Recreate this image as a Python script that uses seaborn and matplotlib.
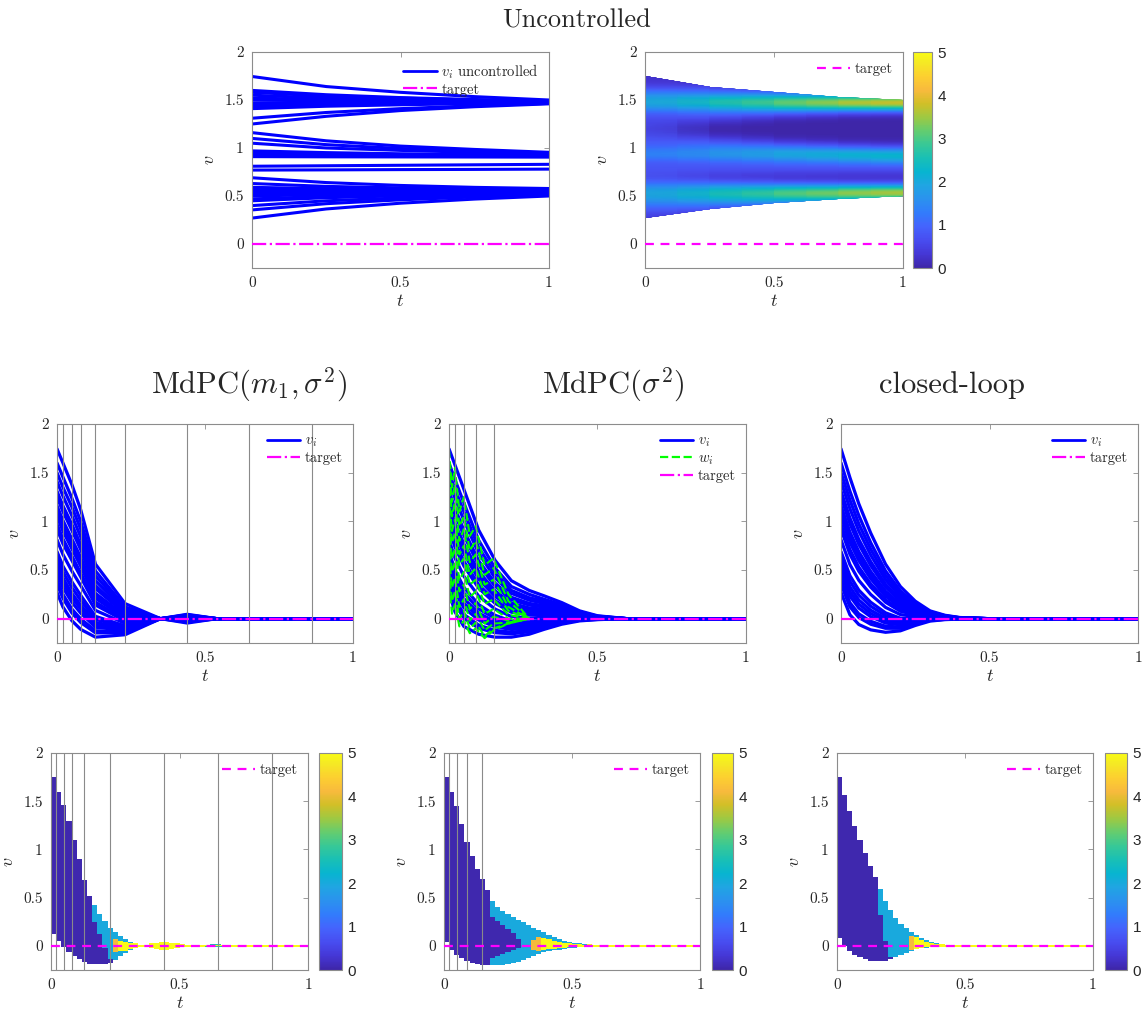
import numpy as np
import pandas as pd
import matplotlib
matplotlib.use('Agg')
import matplotlib.pyplot as plt
from matplotlib.colors import LinearSegmentedColormap
from matplotlib.lines import Line2D
from matplotlib.patches import Polygon
import seaborn as sns

# ==============================
# DATA
# ==============================
target_v = 0.0
x_ticks = [0, 0.5, 1]
x_tick_labels = ['0', '0.5', '1']
y_ticks = [0, 0.5, 1, 1.5, 2]
y_tick_labels = ['0', '0.5', '1', '1.5', '2']
cbar_ticks = [0, 1, 2, 3, 4, 5]

# uncontrolled trajectories v_i(t)
t_unc = [0, 0.25, 0.5, 0.75, 1.0]
v_unc = [
    [1.745, 1.64, 1.58, 1.535, 1.50],
    [1.60, 1.555, 1.525, 1.505, 1.49],
    [1.58, 1.54, 1.52, 1.50, 1.488],
    [1.55, 1.52, 1.505, 1.492, 1.483],
    [1.52, 1.505, 1.495, 1.487, 1.482],
    [1.50, 1.49, 1.486, 1.482, 1.479],
    [1.47, 1.473, 1.475, 1.477, 1.478],
    [1.45, 1.46, 1.467, 1.472, 1.475],
    [1.43, 1.45, 1.46, 1.468, 1.474],
    [1.41, 1.435, 1.45, 1.463, 1.472],
    [1.31, 1.37, 1.41, 1.44, 1.465],
    [1.25, 1.33, 1.39, 1.43, 1.46],
    [1.16, 1.075, 1.02, 0.985, 0.955],
    [1.10, 1.035, 0.995, 0.967, 0.945],
    [1.05, 1.00, 0.975, 0.955, 0.938],
    [0.97, 0.952, 0.94, 0.932, 0.926],
    [0.95, 0.938, 0.93, 0.925, 0.921],
    [0.93, 0.924, 0.92, 0.918, 0.916],
    [0.91, 0.908, 0.907, 0.906, 0.905],
    [0.81, 0.815, 0.82, 0.825, 0.83],
    [0.77, 0.772, 0.775, 0.777, 0.78],
    [0.69, 0.64, 0.61, 0.59, 0.578],
    [0.63, 0.60, 0.585, 0.573, 0.567],
    [0.59, 0.577, 0.57, 0.564, 0.561],
    [0.57, 0.564, 0.56, 0.557, 0.556],
    [0.55, 0.55, 0.55, 0.55, 0.55],
    [0.52, 0.53, 0.536, 0.541, 0.544],
    [0.50, 0.515, 0.525, 0.533, 0.539],
    [0.47, 0.495, 0.512, 0.524, 0.532],
    [0.45, 0.482, 0.502, 0.517, 0.527],
    [0.40, 0.45, 0.48, 0.503, 0.52],
    [0.355, 0.42, 0.46, 0.49, 0.513],
    [0.27, 0.365, 0.425, 0.468, 0.50],
]

# MdPC(m1, sigma^2)
ctrl_A = [0.02, 0.05, 0.08, 0.13, 0.23, 0.44, 0.65, 0.86]
t_A = [0, 0.02, 0.05, 0.08, 0.13, 0.23, 0.35, 0.44, 0.54, 1.0]
v_A = [
    [1.745, 1.60, 1.38, 1.12, 0.56, 0.155, 0, -0.045, 0, 0],
    [1.60, 1.455, 1.24, 1.00, 0.49, 0.12, 0, -0.036, 0, 0],
    [1.50, 1.35, 1.15, 0.92, 0.44, 0.10, 0, -0.03, 0, 0],
    [1.41, 1.26, 1.06, 0.84, 0.39, 0.08, 0, -0.025, 0, 0],
    [1.31, 1.16, 0.97, 0.76, 0.34, 0.06, 0, -0.018, 0, 0],
    [1.25, 1.10, 0.91, 0.71, 0.31, 0.05, 0, -0.015, 0, 0],
    [1.16, 1.01, 0.82, 0.63, 0.26, 0.03, 0, -0.009, 0, 0],
    [1.10, 0.95, 0.77, 0.58, 0.23, 0.015, 0, -0.006, 0, 0],
    [1.05, 0.90, 0.72, 0.54, 0.21, 0.004, 0, -0.003, 0, 0],
    [0.97, 0.82, 0.645, 0.47, 0.17, -0.013, 0, 0.002, 0, 0],
    [0.92, 0.77, 0.60, 0.43, 0.14, -0.024, 0, 0.005, 0, 0],
    [0.81, 0.66, 0.49, 0.34, 0.085, -0.048, 0, 0.012, 0, 0],
    [0.69, 0.54, 0.38, 0.24, 0.024, -0.074, 0, 0.019, 0, 0],
    [0.63, 0.48, 0.32, 0.19, -0.007, -0.087, 0, 0.023, 0, 0],
    [0.57, 0.42, 0.26, 0.14, -0.038, -0.10, 0, 0.027, 0, 0],
    [0.52, 0.37, 0.22, 0.10, -0.063, -0.111, 0, 0.03, 0, 0],
    [0.47, 0.32, 0.17, 0.057, -0.088, -0.121, 0, 0.033, 0, 0],
    [0.40, 0.25, 0.10, -0.002, -0.124, -0.137, 0, 0.037, 0, 0],
    [0.355, 0.21, 0.06, -0.039, -0.146, -0.146, 0, 0.04, 0, 0],
    [0.27, 0.12, -0.02, -0.11, -0.19, -0.165, 0, 0.045, 0, 0],
]

# MdPC(sigma^2)
ctrl_B = [0.02, 0.05, 0.09, 0.15]
t_B = [0, 0.02, 0.05, 0.1, 0.155, 0.21, 0.27, 0.32, 0.38, 0.44, 0.5, 0.6, 1.0]
v_B = [
    [1.745, 1.58, 1.33, 0.91, 0.60, 0.39, 0.29, 0.235, 0.165, 0.08, 0.03, 0, 0],
    [1.60, 1.43, 1.19, 0.805, 0.52, 0.33, 0.25, 0.20, 0.143, 0.07, 0.026, 0, 0],
    [1.50, 1.33, 1.10, 0.73, 0.47, 0.29, 0.215, 0.18, 0.128, 0.063, 0.023, 0, 0],
    [1.41, 1.24, 1.01, 0.67, 0.42, 0.26, 0.19, 0.157, 0.115, 0.057, 0.021, 0, 0],
    [1.31, 1.135, 0.91, 0.594, 0.367, 0.22, 0.157, 0.133, 0.10, 0.05, 0.018, 0, 0],
    [1.25, 1.07, 0.856, 0.55, 0.335, 0.195, 0.14, 0.12, 0.09, 0.045, 0.017, 0, 0],
    [1.16, 0.98, 0.77, 0.485, 0.286, 0.16, 0.11, 0.098, 0.077, 0.039, 0.014, 0, 0],
    [1.10, 0.92, 0.714, 0.442, 0.255, 0.137, 0.093, 0.084, 0.068, 0.035, 0.013, 0, 0],
    [1.05, 0.87, 0.666, 0.406, 0.228, 0.117, 0.078, 0.073, 0.06, 0.031, 0.011, 0, 0],
    [0.97, 0.787, 0.59, 0.348, 0.185, 0.086, 0.054, 0.054, 0.048, 0.026, 0.009, 0, 0],
    [0.92, 0.736, 0.542, 0.312, 0.158, 0.066, 0.038, 0.042, 0.041, 0.022, 0.008, 0, 0],
    [0.81, 0.623, 0.436, 0.232, 0.099, 0.022, 0.005, 0.016, 0.024, 0.015, 0.005, 0, 0],
    [0.69, 0.50, 0.322, 0.145, 0.035, -0.025, -0.032, -0.012, 0.006, 0.006, 0.001, 0, 0],
    [0.63, 0.438, 0.264, 0.10, 0.003, -0.048, -0.05, -0.026, -0.003, 0.002, 0, 0, 0],
    [0.57, 0.377, 0.206, 0.057, -0.03, -0.072, -0.069, -0.04, -0.012, -0.002, -0.002, 0, 0],
    [0.52, 0.325, 0.158, 0.021, -0.056, -0.092, -0.084, -0.052, -0.019, -0.006, -0.003, 0, 0],
    [0.47, 0.275, 0.112, -0.014, -0.083, -0.111, -0.099, -0.063, -0.027, -0.009, -0.005, 0, 0],
    [0.40, 0.203, 0.044, -0.066, -0.12, -0.139, -0.12, -0.08, -0.037, -0.014, -0.006, 0, 0],
    [0.355, 0.158, 0.002, -0.098, -0.144, -0.156, -0.134, -0.09, -0.044, -0.017, -0.008, 0, 0],
    [0.27, 0.07, -0.08, -0.16, -0.19, -0.19, -0.16, -0.11, -0.057, -0.023, -0.01, 0, 0],
]
# controls w_i(t) (green dashed)
t_W = [0, 0.01, 0.02, 0.035, 0.05, 0.07, 0.09, 0.12, 0.15, 0.2, 0.27]
w_B = [
    [1.73, 1.35, 1.55, 1.10, 1.25, 0.85, 0.95, 0.55, 0.62, 0.25, 0.0],
    [1.58, 1.20, 1.38, 0.95, 1.05, 0.70, 0.80, 0.45, 0.52, 0.18, 0.0],
    [1.45, 1.05, 1.20, 0.80, 0.92, 0.58, 0.66, 0.35, 0.40, 0.12, 0.0],
    [1.25, 0.90, 1.02, 0.66, 0.75, 0.45, 0.52, 0.25, 0.30, 0.08, 0.0],
    [1.10, 0.78, 0.88, 0.55, 0.62, 0.35, 0.40, 0.15, 0.20, 0.04, 0.0],
    [0.95, 0.62, 0.72, 0.40, 0.48, 0.22, 0.28, 0.05, 0.10, 0.0, 0.0],
    [0.80, 0.48, 0.58, 0.28, 0.35, 0.10, 0.16, -0.05, 0.02, -0.02, 0.0],
    [0.65, 0.32, 0.42, 0.12, 0.20, -0.02, 0.05, -0.12, -0.05, -0.04, 0.0],
    [0.50, 0.18, 0.28, 0.0, 0.08, -0.10, -0.04, -0.18, -0.10, -0.05, 0.0],
    [0.35, 0.05, 0.15, -0.08, -0.02, -0.15, -0.10, -0.20, -0.12, -0.05, 0.0],
]

# closed-loop
t_C = [0, 0.03, 0.06, 0.1, 0.15, 0.2, 0.25, 0.3, 0.35, 0.4, 0.5, 1.0]
v_C = [
    [1.745, 1.45, 1.18, 0.88, 0.56, 0.33, 0.18, 0.08, 0.035, 0.012, 0, 0],
    [1.60, 1.31, 1.06, 0.78, 0.49, 0.285, 0.156, 0.07, 0.031, 0.01, 0, 0],
    [1.50, 1.22, 0.974, 0.715, 0.444, 0.254, 0.139, 0.063, 0.028, 0.009, 0, 0],
    [1.41, 1.13, 0.90, 0.654, 0.40, 0.227, 0.123, 0.056, 0.025, 0.008, 0, 0],
    [1.31, 1.034, 0.814, 0.586, 0.354, 0.196, 0.106, 0.049, 0.022, 0.007, 0, 0],
    [1.25, 0.976, 0.763, 0.546, 0.325, 0.177, 0.096, 0.045, 0.02, 0.007, 0, 0],
    [1.16, 0.89, 0.688, 0.485, 0.282, 0.149, 0.081, 0.038, 0.017, 0.006, 0, 0],
    [1.10, 0.834, 0.638, 0.445, 0.254, 0.131, 0.071, 0.034, 0.015, 0.005, 0, 0],
    [1.05, 0.786, 0.596, 0.411, 0.23, 0.116, 0.062, 0.031, 0.014, 0.004, 0, 0],
    [0.97, 0.71, 0.529, 0.358, 0.193, 0.091, 0.049, 0.025, 0.011, 0.004, 0, 0],
    [0.92, 0.662, 0.487, 0.324, 0.169, 0.076, 0.04, 0.021, 0.01, 0.003, 0, 0],
    [0.81, 0.556, 0.394, 0.249, 0.116, 0.042, 0.022, 0.013, 0.006, 0.002, 0, 0],
    [0.69, 0.442, 0.293, 0.169, 0.06, 0.005, 0.001, 0.005, 0.003, 0, 0, 0],
    [0.63, 0.384, 0.243, 0.128, 0.031, -0.014, -0.009, 0.001, 0.001, 0, 0, 0],
    [0.57, 0.326, 0.192, 0.087, 0.002, -0.033, -0.019, -0.004, -0.001, 0, 0, 0],
    [0.52, 0.278, 0.15, 0.053, -0.022, -0.048, -0.028, -0.007, -0.002, -0.001, 0, 0],
    [0.47, 0.232, 0.109, 0.02, -0.045, -0.063, -0.036, -0.011, -0.004, -0.002, 0, 0],
    [0.40, 0.164, 0.049, -0.027, -0.078, -0.085, -0.048, -0.016, -0.006, -0.003, 0, 0],
    [0.355, 0.122, 0.012, -0.057, -0.099, -0.099, -0.055, -0.019, -0.007, -0.003, 0, 0],
    [0.27, 0.04, -0.06, -0.115, -0.14, -0.125, -0.07, -0.025, -0.01, -0.004, 0, 0],
]

# density maps: per time column (width 0.02) envelope + coloured zones
# zone codes: D dark, B light blue, C cyan, O orange, Y yellow, - none
top_A = [1.75, 1.60, 1.46, 1.30, 1.10, 0.90, 0.68, 0.52, 0.42, 0.33, 0.26, 0.19, 0.14, 0.10, 0.07,
         0.045, 0.025, 0.012, 0.012, 0.025, 0.035, 0.042, 0.042, 0.035, 0.025, 0.015, 0.01, 0.008,
         0.008, 0.008, 0.012, 0.014, 0.014, 0.012, 0.008]
bot_A = [0.12, 0.05, -0.01, -0.06, -0.11, -0.14, -0.17, -0.19, -0.19, -0.19, -0.19, -0.18, -0.15, -0.11,
         -0.075, -0.045, -0.025, -0.012, -0.012, -0.025, -0.035, -0.042, -0.042, -0.035, -0.025,
         -0.015, -0.01, -0.008, -0.008, -0.008, -0.012, -0.014, -0.014, -0.012, -0.008]
zone_out_A = 'DDDDDDDDDDDDBBBBYYYYYYYYYYYYYYCCCCY'
zone_in_A = '--------BBBBOYYY--------------YYYY-'
in_lo_A = [np.nan] * 8 + [0.25, 0.12, -0.02, -0.14, -0.06, -0.05, -0.05, -0.03] + [np.nan] * 14 + [-0.006] * 4 + [np.nan]
in_hi_A = [np.nan] * 8 + [0.42, 0.33, 0.26, 0.19, 0.07, 0.05, 0.045, 0.03] + [np.nan] * 14 + [0.006] * 4 + [np.nan]

top_B = [1.75, 1.60, 1.45, 1.26, 1.08, 0.93, 0.80, 0.69, 0.58, 0.47, 0.40, 0.36, 0.33, 0.30, 0.27,
         0.25, 0.22, 0.19, 0.16, 0.14, 0.11, 0.09, 0.07, 0.055, 0.045, 0.035, 0.027, 0.02, 0.014,
         0.01, 0.008, 0.008, 0.008, 0.008, 0.008]
bot_B = [0.04, -0.04, -0.09, -0.13, -0.16, -0.18, -0.19, -0.20, -0.20, -0.20, -0.20, -0.20, -0.19, -0.18,
         -0.165, -0.145, -0.125, -0.105, -0.085, -0.068, -0.055, -0.045, -0.037, -0.03, -0.025, -0.02,
         -0.016, -0.012, -0.009, -0.008, -0.008, -0.008, -0.008, -0.008, -0.008]
zone_out_B = 'DDDDDDDDDBBBBBBBBBBBBBBBBBBBYYYYYYY'
zone_in_B = '---------DDDDDD--OOYYYYYYYYY-------'
in_lo_B = [np.nan] * 9 + [-0.13, -0.10, -0.08, -0.06, -0.04, -0.02, np.nan, np.nan, -0.04, -0.05,
                          -0.04, -0.035, -0.03, -0.025, -0.02, -0.015, -0.012, -0.01, -0.007] + [np.nan] * 7
in_hi_B = [np.nan] * 9 + [0.30, 0.26, 0.22, 0.17, 0.13, 0.07, np.nan, np.nan, 0.06, 0.09,
                          0.08, 0.07, 0.055, 0.045, 0.035, 0.03, 0.022, 0.017, 0.012] + [np.nan] * 7

top_C = [1.75, 1.56, 1.40, 1.24, 1.10, 0.96, 0.83, 0.71, 0.59, 0.47, 0.37, 0.29, 0.23, 0.185, 0.145,
         0.11, 0.08, 0.057, 0.04, 0.027, 0.018, 0.012, 0.008, 0.008, 0.008, 0.008, 0.008, 0.008,
         0.008, 0.008, 0.008, 0.008, 0.008, 0.008, 0.008]
bot_C = [0.08, 0.0, -0.05, -0.09, -0.12, -0.14, -0.155, -0.16, -0.16, -0.155, -0.14, -0.12, -0.095,
         -0.07, -0.05, -0.035, -0.025, -0.017, -0.012, -0.009, -0.008, -0.008, -0.008, -0.008, -0.008,
         -0.008, -0.008, -0.008, -0.008, -0.008, -0.008, -0.008, -0.008, -0.008, -0.008]
zone_out_C = 'DDDDDDDDDDDBBBBBBBBBYYYYYYYYYYYYYYY'
zone_in_C = '--------BBB---OYYYYY---------------'
in_lo_C = [np.nan] * 8 + [0.32, 0.05, -0.12, np.nan, np.nan, np.nan, -0.045, -0.03, -0.02, -0.014, -0.01, -0.007] + [np.nan] * 15
in_hi_C = [np.nan] * 8 + [0.59, 0.47, 0.37, np.nan, np.nan, np.nan, 0.10, 0.09, 0.065, 0.045, 0.032, 0.022] + [np.nan] * 15

zone_level = {'D': 0.05, 'B': 2.0, 'C': 2.6, 'O': 4.1, 'Y': 5.0}

# ==============================
# STYLE
# ==============================
sns.set_style('white')
plt.rcParams['font.family'] = ['cmr10', 'DejaVu Serif']
plt.rcParams['mathtext.fontset'] = 'cm'
plt.rcParams['axes.unicode_minus'] = False
plt.rcParams['axes.formatter.use_mathtext'] = True

parula_pts = [
    (0.2422, 0.1504, 0.6603), (0.2706, 0.2147, 0.8364), (0.2813, 0.3006, 0.9414),
    (0.2699, 0.3892, 0.9906), (0.1963, 0.4847, 0.9892), (0.1687, 0.5703, 0.9359),
    (0.1248, 0.6459, 0.8883), (0.0297, 0.7082, 0.8163), (0.0964, 0.7500, 0.7120),
    (0.2161, 0.7843, 0.5923), (0.3909, 0.8029, 0.4354), (0.6174, 0.7876, 0.2612),
    (0.8203, 0.7498, 0.1535), (0.9728, 0.7298, 0.2394), (0.9892, 0.8136, 0.1885),
    (0.9597, 0.9135, 0.1423), (0.9769, 0.9839, 0.0805)]
parula_pos = [0, 4, 8, 12, 16, 20, 24, 28, 32, 36, 40, 44, 48, 52, 56, 60, 63]
parula = LinearSegmentedColormap.from_list(
    'parula', [(p / 63, c) for p, c in zip(parula_pos, parula_pts)])

BLUE, GREEN, MAGENTA = '#0000ff', '#00ff00', '#ff00ff'
AX_GREY, TXT, VLINE = '#8c8c8c', '#262626', '#8a8a8a'

W, H = 1147, 1019
fig = plt.figure(figsize=(W / 100, H / 100), dpi=100)


def box(l, t, r, b):
    return [l / W, 1 - b / H, (r - l) / W, (b - t) / H]


def style_axes(ax):
    ax.set_xlim(0, 1)
    ax.set_ylim(-0.25, 2)
    ax.set_xticks(x_ticks)
    ax.set_xticklabels(x_tick_labels)
    ax.set_yticks(y_ticks)
    ax.set_yticklabels(y_tick_labels)
    ax.tick_params(direction='in', top=True, right=True, length=3.5, width=0.6,
                   color=AX_GREY, labelsize=11, labelcolor=TXT, pad=6)
    for s in ax.spines.values():
        s.set_color(AX_GREY)
        s.set_linewidth(0.8)
    ax.set_xlabel('$t$', fontsize=13, color=TXT, labelpad=2)
    ax.set_ylabel('$v$', fontsize=13, color=TXT, labelpad=5)


def long_frame(times, rows):
    recs = [(i, t, v) for i, row in enumerate(rows) for t, v in zip(times, row)]
    return pd.DataFrame(recs, columns=['id', 't', 'v'])


def draw_lines(ax, times, rows, color, lw, ls='-'):
    sns.lineplot(data=long_frame(times, rows), x='t', y='v', units='id', estimator=None,
                 color=color, lw=lw, linestyle=ls, legend=False, ax=ax)


def style_cbar(cax, mappable):
    cb = fig.colorbar(mappable, cax=cax, ticks=cbar_ticks)
    cb.outline.set_edgecolor(AX_GREY)
    cb.outline.set_linewidth(0.8)
    cax.tick_params(direction='in', length=3, width=0.6, color=AX_GREY, labelsize=11,
                    labelcolor=TXT, pad=4)
    cax.set_yticklabels([str(v) for v in cbar_ticks], fontfamily='Liberation Sans')


def add_legend(ax, handles, labels):
    ax.legend(handles, labels, loc='upper right', frameon=False, fontsize=10.5,
              handlelength=2.3, handletextpad=0.3, labelspacing=0.15, borderaxespad=0.3)


N_COL, DT = 50, 0.02
v_edges = np.arange(-0.25, 2.0001, 0.0025)
v_mid = 0.5 * (v_edges[:-1] + v_edges[1:])


def pad(a, val):
    return list(a) + [val] * (N_COL - len(a))


def column_map(top, bot, zone_out, zone_in, in_lo, in_hi):
    top, bot = pad(top, 0.008), pad(bot, -0.008)
    zone_out = zone_out + 'Y' * (N_COL - len(zone_out))
    zone_in = zone_in + '-' * (N_COL - len(zone_in))
    in_lo, in_hi = pad(in_lo, np.nan), pad(in_hi, np.nan)
    img = np.full((len(v_mid), N_COL), np.nan)
    for k in range(N_COL):
        m = (v_mid >= bot[k]) & (v_mid <= top[k])
        img[m, k] = zone_level[zone_out[k]]
        if zone_in[k] != '-':
            m2 = m & (v_mid >= in_lo[k]) & (v_mid <= in_hi[k])
            img[m2, k] = zone_level[zone_in[k]]
    return np.ma.masked_invalid(img)


def draw_column_map(ax, cax, img, ctrl):
    t_edges = np.arange(N_COL + 1) * DT
    mesh = ax.pcolormesh(t_edges, v_edges, img, cmap=parula, vmin=0, vmax=5,
                         shading='flat', zorder=1, rasterized=True)
    for tc in ctrl:
        ax.axvline(tc, color=VLINE, lw=0.8, zorder=3)
    ax.axhline(target_v, color=MAGENTA, lw=1.6, ls=(0, (4, 3)), zorder=4)
    style_axes(ax)
    add_legend(ax, [h_tgt_dash], ['target'])
    style_cbar(cax, mesh)


h_v = Line2D([], [], color=BLUE, lw=2)
h_w = Line2D([], [], color=GREEN, lw=1.6, ls='--')
h_tgt_dd = Line2D([], [], color=MAGENTA, lw=1.6, ls='-.')
h_tgt_dash = Line2D([], [], color=MAGENTA, lw=1.6, ls=(0, (4, 3)))

# ==============================
# ROW 1: uncontrolled
# ==============================
ax = fig.add_axes(box(252, 52, 549, 268))
draw_lines(ax, t_unc, v_unc, BLUE, 2.2)
ax.axhline(target_v, color=MAGENTA, lw=1.6, ls='-.', zorder=4)
style_axes(ax)
add_legend(ax, [h_v, h_tgt_dd], ['$v_i$ uncontrolled', 'target'])

ax = fig.add_axes(box(645, 52, 903, 268))
cax = fig.add_axes(box(913, 52, 932, 268))
U = np.array(v_unc)
bw = 0.06
dens_scale = 1.6  # colour scale of the reference density
kern = np.exp(-0.5 * ((v_edges[:, None, None] - U.T[None, :, :]) / bw) ** 2)
dens = dens_scale * kern.sum(axis=2) / (len(U) * bw * np.sqrt(2 * np.pi))
mesh = ax.pcolormesh(t_unc, v_edges, dens, cmap=parula, vmin=0, vmax=5, shading='gouraud',
                     zorder=1, rasterized=True)
env = np.column_stack([list(t_unc) + list(t_unc)[::-1],
                       list(U.max(axis=0)) + list(U.min(axis=0))[::-1]])
mesh.set_clip_path(Polygon(env, closed=True, transform=ax.transData))
ax.axhline(target_v, color=MAGENTA, lw=1.6, ls=(0, (4, 3)), zorder=4)
style_axes(ax)
add_legend(ax, [h_tgt_dash], ['target'])
style_cbar(cax, mesh)

fig.text(577 / W, 1 - 28 / H, 'Uncontrolled', ha='center', va='baseline', fontsize=19)

# ==============================
# ROW 2: trajectories
# ==============================
ax = fig.add_axes(box(57, 424, 353, 643))
draw_lines(ax, t_A, v_A, BLUE, 2.3)
for tc in ctrl_A:
    ax.axvline(tc, color=VLINE, lw=0.8, zorder=3)
ax.axhline(target_v, color=MAGENTA, lw=1.6, ls='-.', zorder=4)
style_axes(ax)
add_legend(ax, [h_v, h_tgt_dd], ['$v_i$', 'target'])
fig.text(249 / W, 1 - 393 / H, r'MdPC$(m_1,\sigma^2)$', ha='center', va='baseline', fontsize=22)

ax = fig.add_axes(box(449, 424, 746, 643))
draw_lines(ax, t_B, v_B, BLUE, 2.3)
draw_lines(ax, t_W, w_B, GREEN, 1.5, ls='--')
for tc in ctrl_B:
    ax.axvline(tc, color=VLINE, lw=0.8, zorder=3)
ax.axhline(target_v, color=MAGENTA, lw=1.6, ls='-.', zorder=4)
style_axes(ax)
add_legend(ax, [h_v, h_w, h_tgt_dd], ['$v_i$', '$w_i$', 'target'])
fig.text(613 / W, 1 - 393 / H, r'MdPC$(\sigma^2)$', ha='center', va='baseline', fontsize=22)

ax = fig.add_axes(box(841, 424, 1138, 643))
draw_lines(ax, t_C, v_C, BLUE, 2.3)
ax.axhline(target_v, color=MAGENTA, lw=1.6, ls='-.', zorder=4)
style_axes(ax)
add_legend(ax, [h_v, h_tgt_dd], ['$v_i$', 'target'])
fig.text(952 / W, 1 - 393 / H, 'closed-loop', ha='center', va='baseline', fontsize=22)

# ==============================
# ROW 3: density maps
# ==============================
draw_column_map(fig.add_axes(box(51, 753, 308, 970)), fig.add_axes(box(319, 753, 342, 970)),
                column_map(top_A, bot_A, zone_out_A, zone_in_A, in_lo_A, in_hi_A), ctrl_A)
draw_column_map(fig.add_axes(box(444, 753, 700, 970)), fig.add_axes(box(712, 753, 733, 970)),
                column_map(top_B, bot_B, zone_out_B, zone_in_B, in_lo_B, in_hi_B), ctrl_B)
draw_column_map(fig.add_axes(box(837, 753, 1093, 970)), fig.add_axes(box(1105, 753, 1127, 970)),
                column_map(top_C, bot_C, zone_out_C, zone_in_C, in_lo_C, in_hi_C), [])

fig.savefig('out.png', dpi=100, facecolor='white')
